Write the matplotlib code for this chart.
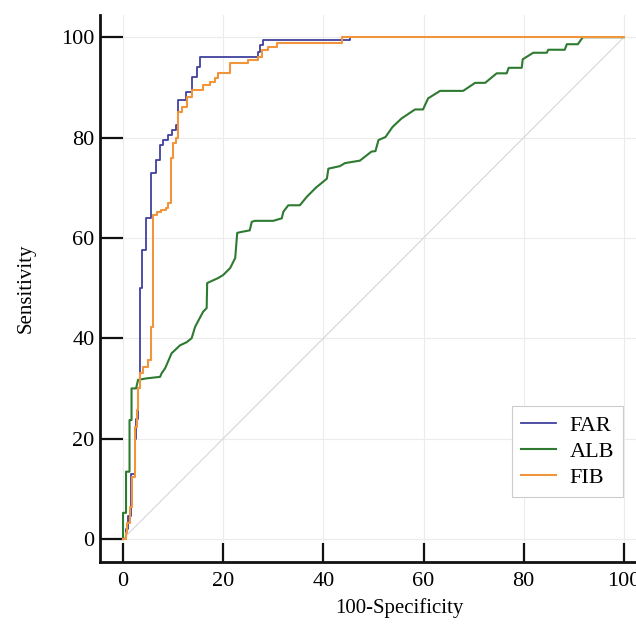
import numpy as np
import matplotlib
matplotlib.use("Agg")
import matplotlib.pyplot as plt

# === ROC data (100-Specificity, Sensitivity) ===
# FAR and FIB are step curves: each point is a corner after the vertical rise
far_fpr = [0, 0.5, 1, 1.5, 2.4, 2.6, 3, 3.3, 3.7, 4.5, 5.5, 6.5, 7.4, 8, 9,
           9.8, 10.6, 11, 12.6, 13.8, 14.8, 15.4, 27, 27.4, 28, 45.3, 100]
far_tpr = [0, 2, 4.5, 13, 20, 24, 30, 50, 57.5, 64, 73, 75.5, 78.5, 79.5, 80.5,
           81.5, 82.5, 87.5, 89, 92, 94, 96, 97, 98.5, 99.4, 100, 100]

fib_fpr = [0, 0.5, 0.8, 1.4, 1.7, 2.4, 2.7, 3.0, 3.4, 4.05, 5.05, 5.5, 6.05,
           6.7, 7.5, 8.5, 9.0, 9.6, 10, 10.5, 11, 11.7, 12.8, 13.7, 16, 17.4,
           18.4, 19, 21.4, 25, 27, 27.7, 29, 30.7, 43.7, 100]
fib_tpr = [0, 1.2, 3.2, 6.4, 12.4, 22.4, 25.7, 30, 33, 34.3, 35.7, 42.3, 64.5,
           65.2, 65.6, 66, 67, 76, 79, 80, 85, 86, 88, 89.5, 90.4, 91, 91.8,
           92.8, 94.8, 95.4, 96, 97.4, 98, 98.8, 100, 100]

# ALB is drawn as a polyline through its vertices
alb_fpr = [0, 0, 0.6, 0.6, 1.3, 1.3, 1.7, 1.7, 2.6, 3, 4.7, 7.4, 7.7, 8.4, 9.7,
           11.4, 12.7, 13.7, 14.4, 16, 16.7, 16.8, 19, 20, 21.4, 22.4, 22.8,
           23.7, 25.3, 25.7, 26.3, 30, 31.7, 32, 33, 35.3, 36.7, 38.5, 40.7,
           41, 43.3, 44.3, 47.3, 49.6, 50.4, 51, 52.4, 53.8, 55.6, 58.3, 59.9,
           60.9, 63.3, 67.9, 70.3, 72.3, 74.6, 76.6, 77, 79.6, 79.8, 81.9,
           84.6, 84.9, 88.2, 88.6, 90.8, 91.8, 100]
alb_tpr = [0, 5.2, 5.2, 13.4, 13.4, 23.7, 23.7, 30, 30, 31.7, 32, 32.3, 33, 34,
           37, 38.6, 39.2, 40, 42.3, 45.3, 46, 51, 52, 52.6, 54, 56, 61, 61.2,
           61.5, 63.2, 63.4, 63.4, 63.9, 65.2, 66.5, 66.5, 68.2, 70, 71.8,
           73.8, 74.3, 74.9, 75.4, 77.2, 77.3, 79.5, 80.1, 82.1, 83.8, 85.6,
           85.6, 87.8, 89.3, 89.3, 90.9, 90.9, 92.8, 92.8, 93.9, 93.9, 95.6,
           96.9, 96.9, 97.5, 97.5, 98.6, 98.6, 100, 100]

ticks = [0, 20, 40, 60, 80, 100]

FAR_C = "#40409e"
ALB_C = "#2d7a30"
FIB_C = "#f0953c"

plt.rcParams.update({
    "font.family": ["Liberation Serif", "DejaVu Serif"],
    "font.size": 15,
})

fig = plt.figure(figsize=(6.36, 6.25), dpi=100)
ax = fig.add_axes([0.1572, 0.1008, 0.860, 0.875])

ax.plot([0, 100], [0, 100], color="#d6d6d6", lw=0.8, zorder=1)
ax.plot(far_fpr, far_tpr, drawstyle="steps-post", color=FAR_C, lw=1.3,
        label="FAR", zorder=4)
ax.plot(alb_fpr, alb_tpr, color=ALB_C, lw=1.5, label="ALB", zorder=3)
ax.plot(fib_fpr, fib_tpr, drawstyle="steps-post", color=FIB_C, lw=1.5,
        label="FIB", zorder=5)

ax.set_xlim(-4.6, 104.6)
ax.set_ylim(-4.6, 104.4)
ax.set_xticks(ticks)
ax.set_yticks(ticks)
ax.grid(True, color="#ececec", lw=0.8, zorder=0)
ax.set_axisbelow(True)

for s in ["top", "right"]:
    ax.spines[s].set_visible(False)
for s in ["left", "bottom"]:
    ax.spines[s].set_linewidth(2.0)
    ax.spines[s].set_color("#111111")

ax.tick_params(axis="y", direction="in", length=16.5, width=1.6,
               labelsize=16, pad=4, color="#111111")
ax.tick_params(axis="x", direction="in", length=14, width=1.6,
               labelsize=16, pad=7, color="#111111")

ax.set_xlabel("100-Specificity", fontsize=15)
ax.set_ylabel("Sensitivity", fontsize=15)
ax.xaxis.set_label_coords(0.548, -0.066)
ax.yaxis.set_label_coords(-0.117, 0.5)

leg = ax.legend(loc="lower right", bbox_to_anchor=(0.956, 0.119),
                borderaxespad=0, fancybox=False, fontsize=16,
                handlelength=1.6, handletextpad=0.6, edgecolor="#cccccc",
                framealpha=1, borderpad=0.4, labelspacing=0.25)
leg.get_frame().set_linewidth(0.8)

fig.savefig("out.png", dpi=100)
